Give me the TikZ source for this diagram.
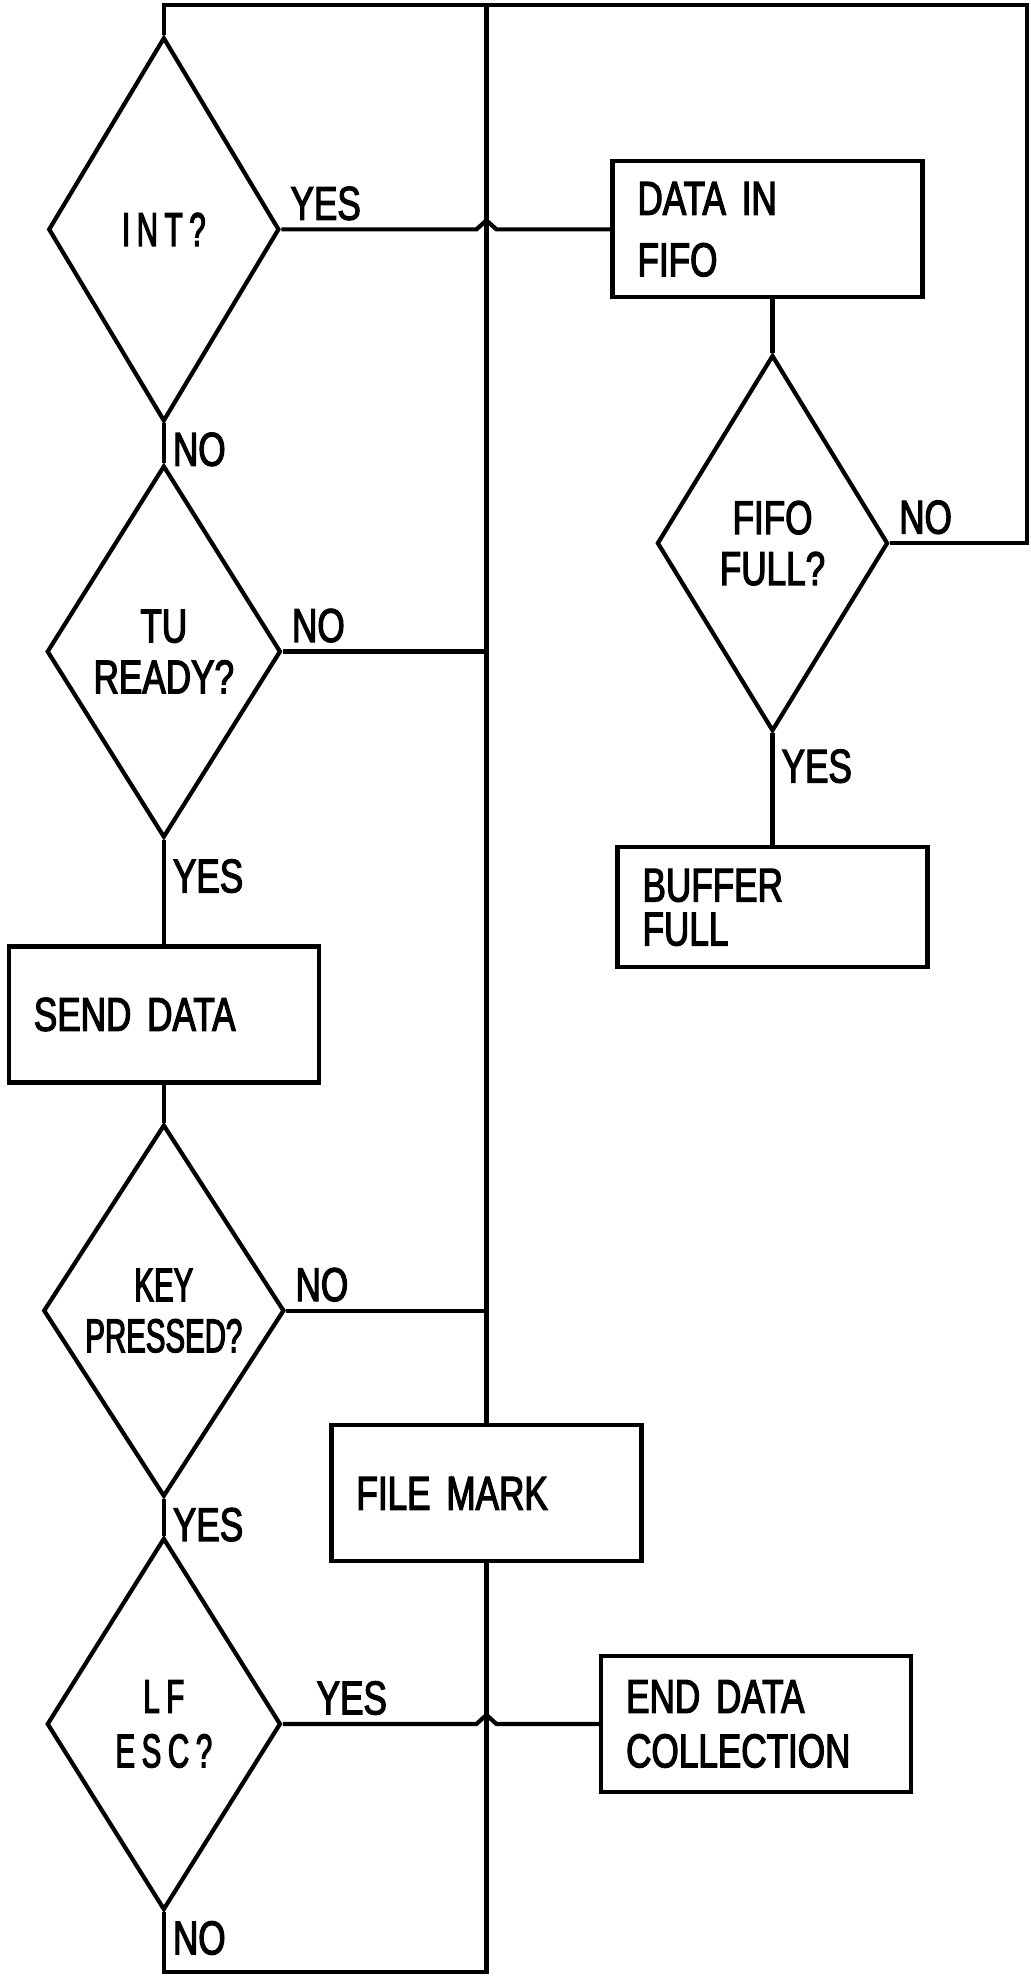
\documentclass[tikz,border=0pt]{standalone}
\usepackage{fontspec}
\newfontfamily\chartfont{Liberation Sans}[FakeStretch=0.74, FakeBold=2.5]
\newfontfamily\tightfont{Liberation Sans}[FakeStretch=0.62, FakeBold=2.5]
\usetikzlibrary{shapes.geometric,calc}

\tikzset{
	txt/.style={font=\chartfont\fontsize{13.5}{14.5}\selectfont},
	tight/.style={font=\tightfont\fontsize{13.5}{14.5}\selectfont},
	spaced/.style={font=\tightfont\fontsize{13.5}{14.5}\selectfont\addfontfeature{LetterSpace=14}},
	decision/.style={txt, draw, diamond, line width=1.2pt, inner sep=0pt, align=center, minimum width=2.34cm, minimum height=3.72cm},
	block/.style={txt, draw, rectangle, line width=1.2pt, inner xsep=0.25cm, text width=2.6cm, align=left, minimum height=1.36cm},
	lbl/.style={txt, inner sep=2pt},
	flow/.style={line width=1.2pt}
}

\begin{document}
\begin{tikzpicture}[x=0.012604cm, y=-0.012604cm]
		\useasboundingbox (0,0) rectangle (818,1568);

		% Draw left column
		\node[decision, spaced, minimum width=2.31cm, minimum height=3.84cm] (int) at (130,182) {INT?};
		\node[decision] (tu) at (130,517) {TU\\READY?};
		\node[block] (send) at (130,805) {SEND DATA};
		\node[decision, tight] (key) at (130,1040) {KEY\\PRESSED?};
		\node[decision, spaced] (lf) at (130,1368) {LF\\[1pt]ESC?};

		% Draw right column
		\node[block] (data) at (609,182) {DATA IN\\[3pt]FIFO};
		\node[decision, minimum width=2.31cm, minimum height=3.76cm] (fifo) at (613,431) {FIFO\\FULL?};
		\node[block, minimum height=1.2cm] (full) at (613,720) {BUFFER\\[-2pt]FULL};
		\node[block] (mark) at (386,1185) {FILE MARK};
		\node[block] (endc) at (600,1368) {END DATA\\[1pt]COLLECTION};

		% Corners of the return lines
		\coordinate (loop) at (815,4);
		\coordinate (base) at (130,1565);

		% Draw links down the left column
		\draw[flow] (int.south) node[lbl, anchor=north west] {NO} -- (tu.north);
		\draw[flow] (tu.south) node[lbl, anchor=north west, yshift=-3pt] {YES} -- (send.north);
		\draw[flow] (send.south) -- (key.north);
		\draw[flow] (key.south) node[lbl, anchor=north west] {YES} -- (lf.north);
		\draw[flow] (lf.south) node[lbl, anchor=north west] {NO} -- (base) -| (mark.south);

		% Draw trunk and loop back to INT?
		\draw[flow] (mark.north) -- (mark.north |- loop);
		\draw[flow] (fifo.east) node[lbl, anchor=south west] {NO} -| (loop) -- (int.north |- loop) -- (int.north);

		% Draw NO branches into the trunk
		\draw[flow] (tu.east) node[lbl, anchor=south west] {NO} -- (tu.east -| mark.north);
		\draw[flow] (key.east) node[lbl, anchor=south west] {NO} -- (key.east -| mark.north);

		% Draw YES branches, hopping over the trunk
		\draw[flow] (int.east) node[lbl, anchor=south west] {YES} -- ($(int.east -| mark.north)+(-0.1cm,0cm)$) -- ++(0.1cm,0.09cm) -- ++(0.1cm,-0.09cm) -- (data.west);
		\draw[flow] (lf.east) node[lbl, anchor=south west, xshift=7pt] {YES} -- ($(lf.east -| mark.north)+(-0.1cm,0cm)$) -- ++(0.1cm,0.09cm) -- ++(0.1cm,-0.09cm) -- (endc.west);

		% Draw links down the right column
		\draw[flow] (data.south -| fifo.north) -- (fifo.north);
		\draw[flow] (fifo.south) node[lbl, anchor=north west, yshift=-2pt] {YES} -- (full.north);
\end{tikzpicture}
\end{document}
